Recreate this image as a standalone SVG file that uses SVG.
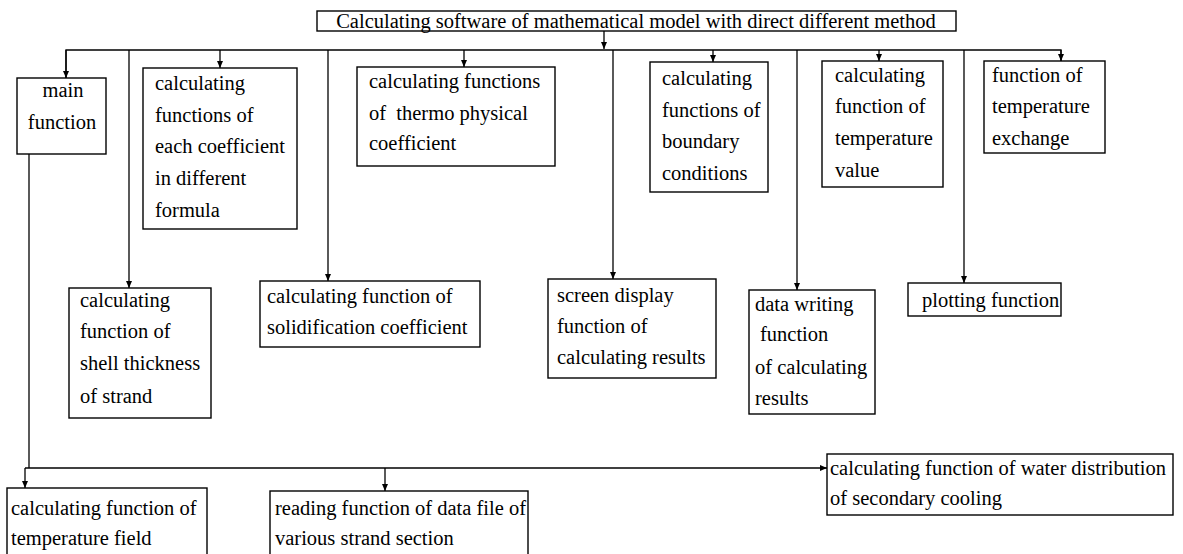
<svg xmlns="http://www.w3.org/2000/svg" width="1183" height="554" viewBox="0 0 1183 554">
<defs>
<style>
.box{fill:#fff;stroke:#000;stroke-width:1.4}
.t{font-family:"Liberation Serif","Times New Roman",serif;font-size:20.5px;fill:#000}
.ln{stroke:#000;stroke-width:1.3;fill:none}
</style>
<marker id="ah" markerUnits="userSpaceOnUse" markerWidth="8" markerHeight="7" refX="7" refY="3.5" orient="auto">
<path d="M0,0.5 L7,3.5 L0,6.5 z" fill="#000"/>
</marker>
</defs>
<rect width="1183" height="554" fill="#fff"/>
<g id="connectors">
<line class="ln" x1="604" y1="31" x2="604" y2="49" marker-end="url(#ah)"/>
<polyline class="ln" points="66,78 66,50 1061,50 1061,61"/>
<line class="ln" x1="66" y1="50" x2="66" y2="78" marker-end="url(#ah)"/>
<line class="ln" x1="1061" y1="50" x2="1061" y2="61" marker-end="url(#ah)"/>
<line class="ln" x1="129" y1="50" x2="129" y2="288" marker-end="url(#ah)"/>
<line class="ln" x1="220" y1="50" x2="220" y2="68" marker-end="url(#ah)"/>
<line class="ln" x1="328" y1="50" x2="328" y2="281" marker-end="url(#ah)"/>
<line class="ln" x1="464" y1="50" x2="464" y2="67" marker-end="url(#ah)"/>
<line class="ln" x1="613" y1="50" x2="613" y2="279" marker-end="url(#ah)"/>
<line class="ln" x1="713" y1="50" x2="713" y2="62" marker-end="url(#ah)"/>
<line class="ln" x1="797" y1="50" x2="797" y2="290" marker-end="url(#ah)"/>
<line class="ln" x1="879" y1="50" x2="879" y2="61" marker-end="url(#ah)"/>
<line class="ln" x1="964" y1="50" x2="964" y2="283" marker-end="url(#ah)"/>
<polyline class="ln" points="29,154 29,468"/>
<line class="ln" x1="25" y1="468" x2="827" y2="468" marker-end="url(#ah)"/>
<line class="ln" x1="25" y1="468" x2="25" y2="488" marker-end="url(#ah)"/>
<line class="ln" x1="385" y1="468" x2="385" y2="491" marker-end="url(#ah)"/>
</g>
<g id="title">
<rect class="box" x="317" y="11" width="639" height="20"/>
<text class="t" x="636" y="27.5" text-anchor="middle">Calculating software of mathematical model with direct different method</text>
</g>
<g id="main">
<rect class="box" x="17" y="78" width="89" height="76"/>
<text class="t" x="63" y="97" text-anchor="middle">main</text>
<text class="t" x="62" y="129" text-anchor="middle">function</text>
</g>
<g id="coef">
<rect class="box" x="143" y="68" width="154" height="161"/>
<text class="t" x="155" y="90">calculating</text>
<text class="t" x="155" y="122">functions of</text>
<text class="t" x="155" y="153">each coefficient</text>
<text class="t" x="155" y="185">in different</text>
<text class="t" x="155" y="217">formula</text>
</g>
<g id="thermo">
<rect class="box" x="357" y="67" width="198" height="99"/>
<text class="t" x="369" y="88">calculating functions</text>
<text class="t" x="369" y="120" xml:space="preserve">of  thermo physical</text>
<text class="t" x="369" y="150">coefficient</text>
</g>
<g id="boundary">
<rect class="box" x="650" y="62" width="118" height="130"/>
<text class="t" x="662" y="85">calculating</text>
<text class="t" x="662" y="117">functions of</text>
<text class="t" x="662" y="148">boundary</text>
<text class="t" x="662" y="180">conditions</text>
</g>
<g id="tvalue">
<rect class="box" x="822" y="61" width="121" height="126"/>
<text class="t" x="835" y="82">calculating</text>
<text class="t" x="835" y="113">function of</text>
<text class="t" x="835" y="145">temperature</text>
<text class="t" x="835" y="177">value</text>
</g>
<g id="texchange">
<rect class="box" x="984" y="61" width="121" height="92"/>
<text class="t" x="992" y="82">function of</text>
<text class="t" x="992" y="113">temperature</text>
<text class="t" x="992" y="145">exchange</text>
</g>
<g id="shell">
<rect class="box" x="69" y="288" width="142" height="130"/>
<text class="t" x="80" y="307">calculating</text>
<text class="t" x="80" y="338">function of</text>
<text class="t" x="80" y="370">shell thickness</text>
<text class="t" x="80" y="403">of strand</text>
</g>
<g id="solid">
<rect class="box" x="260" y="281" width="220" height="66"/>
<text class="t" x="267" y="303">calculating function of</text>
<text class="t" x="267" y="334">solidification coefficient</text>
</g>
<g id="screen">
<rect class="box" x="548" y="279" width="168" height="99"/>
<text class="t" x="557" y="302">screen display</text>
<text class="t" x="557" y="333">function of</text>
<text class="t" x="557" y="364">calculating results</text>
</g>
<g id="datawrite">
<rect class="box" x="749" y="290" width="126" height="124"/>
<text class="t" x="755" y="311">data writing</text>
<text class="t" x="760" y="341">function</text>
<text class="t" x="755" y="374">of calculating</text>
<text class="t" x="755" y="405">results</text>
</g>
<g id="plot">
<rect class="box" x="908" y="283" width="153" height="33"/>
<text class="t" x="922" y="307">plotting function</text>
</g>
<g id="tfield">
<rect class="box" x="7" y="488" width="200" height="80"/>
<text class="t" x="11" y="515">calculating function of</text>
<text class="t" x="11" y="545">temperature field</text>
</g>
<g id="reading">
<rect class="box" x="270" y="491" width="258" height="80"/>
<text class="t" x="275" y="515">reading function of data file of</text>
<text class="t" x="275" y="545">various strand section</text>
</g>
<g id="water">
<rect class="box" x="827" y="454" width="346" height="61"/>
<text class="t" x="830" y="475">calculating function of water distribution</text>
<text class="t" x="830" y="505">of secondary cooling</text>
</g>
</svg>
